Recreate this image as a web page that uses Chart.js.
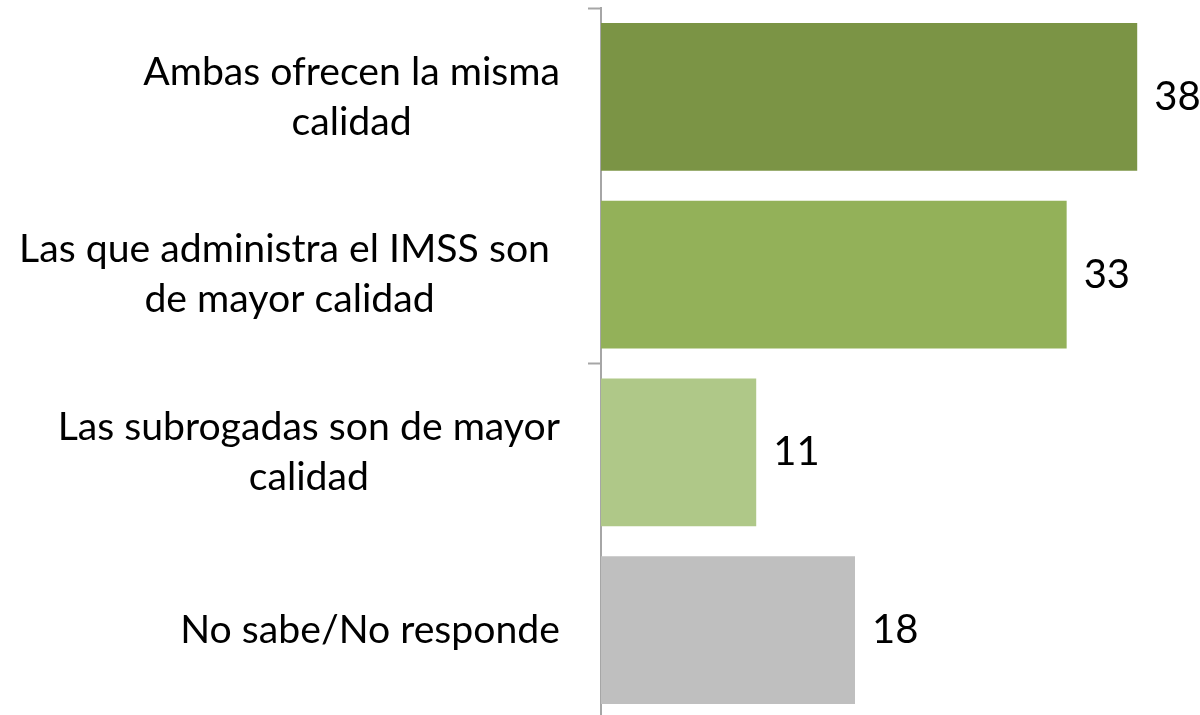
<!DOCTYPE html>
<html>
<head>
<meta charset="utf-8">
<script src="https://cdn.jsdelivr.net/npm/chart.js@4.4.1/dist/chart.umd.min.js"></script>
<style>
  html, body { margin: 0; padding: 0; background: #ffffff; overflow: hidden; }
  #wrap { position: relative; width: 1200px; height: 720px; }
</style>
</head>
<body>
<div id="wrap"><canvas id="c" width="1200" height="720"></canvas></div>
<script>
const categories = [
  ["Ambas ofrecen la misma", "calidad"],
  ["Las que administra el IMSS son ", "de mayor calidad"],
  ["Las subrogadas son de mayor", "calidad"],
  ["No sabe/No responde"]
];
const values = [38, 33, 11, 18];
const barColors = ["#7B9445", "#93B159", "#AFC888", "#BFBFBF"];

const FONT = "Lato, 'Noto Sans', sans-serif";
const FSIZE = 39.2;
const NSIZE = 40;
const LABEL_RIGHT = 560;
const LINE_H = 50;

const labelPlugin = {
  id: 'labelPlugin',
  afterDraw(chart) {
    const ctx = chart.ctx;
    const yScale = chart.scales.y;
    const meta = chart.getDatasetMeta(0);
    ctx.save();
    ctx.font = FSIZE + "px " + FONT;
    ctx.fillStyle = "#000000";
    ctx.textBaseline = "middle";
    categories.forEach((lines, i) => {
      const yc = yScale.getPixelForValue(i);
      let maxW = 0;
      lines.forEach(l => { maxW = Math.max(maxW, ctx.measureText(l).width); });
      const cx = LABEL_RIGHT - maxW / 2;
      ctx.textAlign = "center";
      const y0 = yc - (lines.length - 1) * LINE_H / 2;
      lines.forEach((l, k) => ctx.fillText(l, cx, y0 + k * LINE_H));
    });
    ctx.font = NSIZE + "px " + FONT;
    ctx.textAlign = "left";
    meta.data.forEach((bar, i) => {
      ctx.fillText(String(values[i]), bar.x + 17, bar.y);
    });
    ctx.restore();
  }
};

new Chart(document.getElementById('c'), {
  type: 'bar',
  data: {
    labels: categories,
    datasets: [{
      data: values,
      backgroundColor: barColors,
      borderWidth: 0,
      barPercentage: 0.83,
      categoryPercentage: 1.0
    }]
  },
  options: {
    indexAxis: 'y',
    responsive: false,
    animation: false,
    maintainAspectRatio: false,
    layout: { padding: { top: 8, bottom: 1, left: 0, right: 0 } },
    plugins: { legend: { display: false }, tooltip: { enabled: false } },
    scales: {
      x: {
        display: false,
        min: 0,
        max: 42.45
      },
      y: {
        display: true,
        offset: true,
        afterFit: (s) => { s.width = 601; },
        ticks: { display: false },
        border: { display: true, color: '#A6A6A6', width: 2 },
        grid: {
          offset: true,
          drawOnChartArea: false,
          drawTicks: true,
          tickLength: 13,
          tickWidth: 2,
          tickColor: (ctx) => (ctx.index === 0 || ctx.index === 2) ? '#A6A6A6' : 'rgba(0,0,0,0)',
          color: (ctx) => (ctx.index === 0 || ctx.index === 2) ? '#A6A6A6' : 'rgba(0,0,0,0)'
        }
      }
    }
  },
  plugins: [labelPlugin]
});
</script>
</body>
</html>
